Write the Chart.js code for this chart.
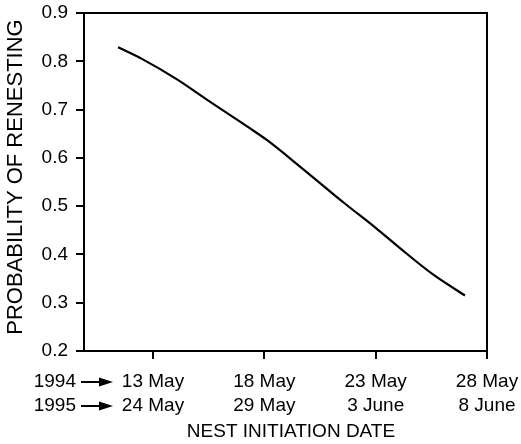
<!DOCTYPE html>
<html>
<head>
<meta charset="utf-8">
<script src="https://cdn.jsdelivr.net/npm/chart.js@4"></script>
<style>
  body { margin: 0; background: #fff; }
  canvas { display: block; }
</style>
</head>
<body>
<canvas id="chart" width="521" height="444"></canvas>
<script>
const days = [11.43, 12.5, 14.06, 15.5, 17.36, 18.11, 19.6, 21.6, 23.0, 24.09, 25.59, 27.01]
const probability = [0.829, 0.805, 0.763, 0.718, 0.661, 0.637, 0.582, 0.506, 0.455, 0.413, 0.358, 0.315]

const tickDays = [13, 18, 23, 28]
const labels1994 = ['13 May', '18 May', '23 May', '28 May']
const labels1995 = ['24 May', '29 May', '3 June', '8 June']
const years = ['1994', '1995']
const yTicks = [0.2, 0.3, 0.4, 0.5, 0.6, 0.7, 0.8, 0.9]

const FONT = "'Liberation Sans', Arial, sans-serif"
const TICK_LEN = 8
const X_PAD = 11
const X_LINE = 24

// box top + right, axis titles, and the year labels with arrows
const framePlugin = {
    id: 'frame',
    afterDraw(chart) {
        const ctx = chart.ctx
        const { top, right, left, bottom } = chart.chartArea
        ctx.save()
        ctx.strokeStyle = '#000'
        ctx.fillStyle = '#000'
        ctx.lineWidth = 2
        ctx.beginPath()
        ctx.moveTo(left - 1, top)
        ctx.lineTo(right, top)
        ctx.lineTo(right, bottom)
        ctx.stroke()

        const x = chart.scales.x
        ctx.font = '19px ' + FONT
        ctx.textAlign = 'right'
        ctx.textBaseline = 'middle'
        years.forEach((yr, i) => {
            const y = x.top + TICK_LEN + X_PAD + X_LINE / 2 + i * X_LINE
            ctx.fillText(yr, 76, y)
            ctx.beginPath()
            ctx.moveTo(81, y)
            ctx.lineTo(102, y)
            ctx.stroke()
            ctx.beginPath()
            ctx.moveTo(113, y)
            ctx.lineTo(99, y - 4.5)
            ctx.lineTo(99, y + 4.5)
            ctx.closePath()
            ctx.fill()
        })

        ctx.textAlign = 'center'
        ctx.fillText('NEST INITIATION DATE', 291, 432)

        ctx.font = '22px ' + FONT
        ctx.translate(16, 177)
        ctx.rotate(-Math.PI / 2)
        ctx.fillText('PROBABILITY OF RENESTING', 0, 0)
        ctx.restore()
    }
}

new Chart(document.getElementById('chart'), {
    type: 'line',
    data: {
        datasets: [{
            data: days.map((d, i) => ({ x: d, y: probability[i] })),
            borderColor: '#000',
            borderWidth: 2.2,
            pointRadius: 0,
            fill: false,
            cubicInterpolationMode: 'monotone'
        }]
    },
    options: {
        responsive: false,
        animation: false,
        layout: { padding: { left: 0, top: 13, right: 34, bottom: 0 } },
        plugins: { legend: { display: false }, tooltip: { enabled: false } },
        scales: {
            x: {
                type: 'linear',
                min: 9.9,
                max: 28,
                afterBuildTicks: (scale) => { scale.ticks = tickDays.map(v => ({ value: v })) },
                afterFit: (scale) => {
                    scale.height = 93
                    scale.paddingLeft = 0
                    scale.paddingRight = 0
                },
                grid: { drawOnChartArea: false, drawTicks: true, tickLength: TICK_LEN, color: '#000', lineWidth: 2, tickWidth: 2, tickColor: '#000' },
                border: { display: true, color: '#000', width: 2 },
                ticks: {
                    color: '#000',
                    padding: X_PAD,
                    maxRotation: 0,
                    font: { family: FONT, size: 19, lineHeight: X_LINE / 19 },
                    callback: (v) => {
                        const i = tickDays.indexOf(v)
                        return i < 0 ? '' : [labels1994[i], labels1995[i]]
                    }
                }
            },
            y: {
                min: 0.2,
                max: 0.9,
                afterBuildTicks: (scale) => { scale.ticks = yTicks.map(v => ({ value: v })) },
                afterFit: (scale) => {
                    scale.width = 84
                    scale.paddingTop = 0
                    scale.paddingBottom = 0
                },
                grid: { drawOnChartArea: false, drawTicks: true, tickLength: TICK_LEN, color: '#000', lineWidth: 2, tickWidth: 2, tickColor: '#000' },
                border: { display: true, color: '#000', width: 2 },
                ticks: {
                    color: '#000',
                    padding: 8,
                    font: { family: FONT, size: 19 },
                    callback: (v) => v.toFixed(1)
                }
            }
        }
    },
    plugins: [framePlugin]
})
</script>
</body>
</html>
